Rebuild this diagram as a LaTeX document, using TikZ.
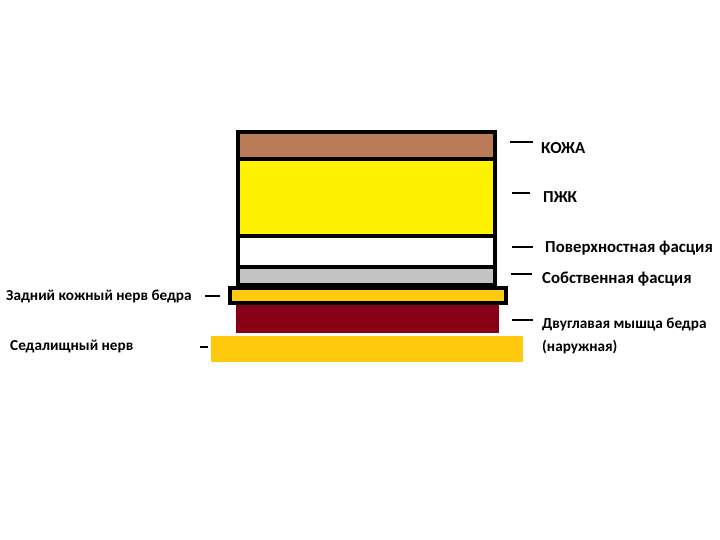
\documentclass[tikz,border=0pt]{standalone}
\usepackage{fontspec}
\setmainfont{Carlito}
\definecolor{skin}{RGB}{185,122,87}
\definecolor{fat}{RGB}{255,242,0}
\definecolor{fascia}{RGB}{195,195,195}
\definecolor{muscle}{RGB}{136,0,21}
\definecolor{nerve}{RGB}{255,201,14}
\tikzset{
	tag/.style={anchor=west, inner sep=0pt, font=\fontsize{13}{19}\selectfont\bfseries},
	bigtag/.style={tag, font=\fontsize{14.3}{17}\selectfont\bfseries},
	tick/.style={line width=2.4pt},
	border/.style={line width=3.4pt}
}
\begin{document}
\begin{tikzpicture}[x=0.03cm, y=-0.03cm]
	\useasboundingbox (0, 0) rectangle (720, 540);
	% layers
	\fill[skin] (238, 132) rectangle (495, 159);
	\fill[fat] (238, 159) rectangle (495, 236);
	\fill[fascia] (237, 268) rectangle (495, 285);
	\fill[muscle] (236, 302) rectangle (499, 333);
	\fill[nerve] (211, 336) rectangle (523, 362);
	\draw[border, fill=nerve] (230, 288) rectangle (506, 303);
	\draw[border] (238, 132) rectangle (495, 285);
	\draw[border] (238, 159) -- (495, 159);
	\draw[border] (238, 236) -- (495, 236);
	\draw[border] (238, 267) -- (495, 267);
	% labels
	\node[bigtag] (kozha) at (541, 148) {КОЖА};
	\node[bigtag] (pzhk) at (543, 197) {ПЖК};
	\node[bigtag] (pov) at (545, 248) {Поверхностная фасция};
	\node[bigtag] (sobst) at (542, 279) {Собственная фасция};
	\node[tag, align=left] (dvugl) at (542, 336) {Двуглавая мышца бедра\\(наружная)};
	\node[tag] (zadn) at (6, 296) {Задний кожный нерв бедра};
	\node[tag] (sedal) at (10, 347) {Седалищный нерв};
	\draw[tick] (510, 142) -- (533, 142);
	\draw[tick] (512, 193) -- (530, 193);
	\draw[tick] (512, 247) -- (533, 247);
	\draw[tick] (511, 274) -- (532, 274);
	\draw[tick] (512, 320) -- (533, 320);
	\draw[tick] (205, 296) -- (220, 296);
	\draw[tick] (200, 347) -- (208, 347);
\end{tikzpicture}
\end{document}
